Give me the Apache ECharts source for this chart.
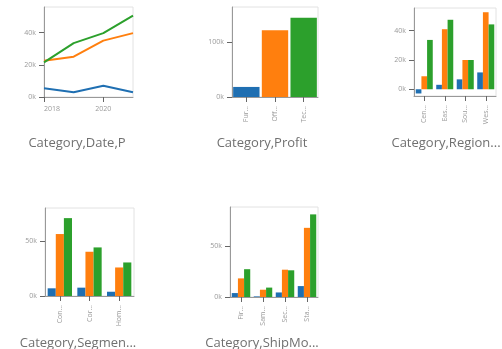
<!DOCTYPE html>
<html>
<head>
<meta charset="utf-8">
<script src="https://cdn.jsdelivr.net/npm/echarts@6/dist/echarts.min.js"></script>
<style>
  html, body { margin: 0; padding: 0; background: #fff; }
  #chart { width: 502px; height: 349px; }
</style>
</head>
<body>
<div id="chart"></div>
<script>
// Superstore profit, split by product category
const categories = ['Furniture', 'Office Supplies', 'Technology'];
const categoryColors = ['#1f6fb2', '#ff7f0e', '#2ca02c'];

// Profit per year
const years = [2018, 2019, 2020, 2021];
const yearTicks = [2018, 2020];
const furnitureByYear = [5458, 3015, 6960, 3019];
const officeByYear = [22593, 25099, 35061, 39736];
const techByYear = [21493, 33503, 39774, 50684];
const yearProfitTicks = [0, 20000, 40000];

// Total profit
const profitByCategory = [18451, 122491, 145455];
const totalProfitTicks = [0, 100000];

// Profit per region
const regions = ['Central', 'East', 'South', 'West'];
const furnitureByRegion = [-2871, 3046, 6771, 11505];
const officeByRegion = [8880, 41015, 19986, 52610];
const techByRegion = [33697, 47462, 19992, 44304];
const regionProfitTicks = [0, 20000, 40000];

// Profit per segment
const segments = ['Consumer', 'Corporate', 'Home Office'];
const furnitureBySegment = [6991, 7585, 3875];
const officeBySegment = [56330, 40227, 25934];
const techBySegment = [70798, 44167, 30490];
const segmentProfitTicks = [0, 50000];

// Profit per ship mode
const shipModes = ['First Class', 'Same Day', 'Second Class', 'Standard Class'];
const furnitureByShipMode = [3900, 600, 4500, 10800];
const officeByShipMode = [18400, 7200, 27000, 68400];
const techByShipMode = [27500, 9300, 26400, 81700];
const shipModeProfitTicks = [0, 50000];

const titles = ['Category,Date,P', 'Category,Profit', 'Category,Region...', 'Category,Segmen...', 'Category,ShipMo...'];

const FONT = 'Open Sans';
const AXIS_LINE = '#999';
const TICK = '#666';
const LABEL = '#999';

const panels = [
  { left: 44, top: 7, width: 89, height: 90, min: 0, max: 56000 },
  { left: 232, top: 7, width: 86, height: 90, min: 0, max: 165000 },
  { left: 414, top: 8, width: 82, height: 88, min: -4600, max: 55500 },
  { left: 45, top: 208, width: 89, height: 88, min: 0, max: 80000 },
  { left: 230, top: 207, width: 88, height: 90, min: 0, max: 89000 }
];

const kFormat = v => Math.round(v / 1000) + 'k';
// Category names are shortened to three letters plus an ellipsis
const shortName = s => s.length > 3 ? s.slice(0, 3) + '\u2026' : s;

const grid = panels.map(p => ({
  left: p.left, top: p.top, width: p.width, height: p.height,
  show: true, borderColor: '#e2e2e2', borderWidth: 1, backgroundColor: '#fff'
}));

function valueAxis(i, ticks) {
  return {
    type: 'value', gridIndex: i, min: panels[i].min, max: panels[i].max,
    splitLine: { show: false },
    axisLine: { show: true, lineStyle: { color: AXIS_LINE, width: 1 } },
    axisTick: { show: true, length: 5, lineStyle: { color: TICK }, customValues: ticks },
    axisLabel: {
      customValues: ticks, formatter: kFormat, fontSize: 7, color: LABEL,
      fontFamily: FONT, margin: 8
    }
  };
}

function categoryAxis(i, names) {
  return {
    type: 'category', gridIndex: i, data: names, boundaryGap: true,
    axisLine: { show: true, onZero: false, lineStyle: { color: AXIS_LINE, width: 1 } },
    axisTick: { show: true, alignWithLabel: true, length: 5, lineStyle: { color: TICK } },
    axisLabel: {
      rotate: 90, fontSize: 7, color: LABEL, fontFamily: FONT, margin: 9,
      interval: 0, formatter: shortName
    }
  };
}

const xAxis = [
  {
    type: 'value', gridIndex: 0, min: years[0], max: years[years.length - 1],
    splitLine: { show: false },
    axisLine: { show: true, lineStyle: { color: AXIS_LINE, width: 1 } },
    axisTick: { show: true, length: 5, lineStyle: { color: TICK }, customValues: yearTicks },
    axisLabel: {
      customValues: yearTicks, formatter: v => String(v), fontSize: 7, color: LABEL,
      fontFamily: FONT, margin: 8, alignMinLabel: 'left'
    }
  },
  categoryAxis(1, categories),
  categoryAxis(2, regions),
  categoryAxis(3, segments),
  categoryAxis(4, shipModes)
];

const yAxis = [
  valueAxis(0, yearProfitTicks),
  valueAxis(1, totalProfitTicks),
  valueAxis(2, regionProfitTicks),
  valueAxis(3, segmentProfitTicks),
  valueAxis(4, shipModeProfitTicks)
];

const series = [];

// Panel 1: yearly profit lines
[furnitureByYear, officeByYear, techByYear].forEach((vals, k) => {
  series.push({
    type: 'line', name: categories[k], xAxisIndex: 0, yAxisIndex: 0,
    data: years.map((y, j) => [y, vals[j]]),
    showSymbol: false, symbol: 'none', lineStyle: { width: 2, color: categoryColors[k] },
    itemStyle: { color: categoryColors[k] }, silent: true
  });
});

// Panel 2: one bar per category
series.push({
  type: 'bar', xAxisIndex: 1, yAxisIndex: 1, barCategoryGap: '8%',
  data: profitByCategory.map((v, k) => ({ value: v, itemStyle: { color: categoryColors[k] } })),
  silent: true
});

// Panels 3-5: grouped bars
const grouped = [
  { axis: 2, sets: [furnitureByRegion, officeByRegion, techByRegion], gap: '17%' },
  { axis: 3, sets: [furnitureBySegment, officeBySegment, techBySegment], gap: '18%' },
  { axis: 4, sets: [furnitureByShipMode, officeByShipMode, techByShipMode], gap: '16%' }
];
grouped.forEach(g => {
  g.sets.forEach((vals, k) => {
    series.push({
      type: 'bar', name: categories[k], xAxisIndex: g.axis, yAxisIndex: g.axis,
      data: vals, barGap: '0%', barCategoryGap: g.gap,
      itemStyle: { color: categoryColors[k] }, silent: true
    });
  });
});

const titleSpots = [[77, 143], [262, 143], [446, 143], [78, 343], [262, 343]];
const graphic = titles.map((t, i) => ({
  type: 'text', x: titleSpots[i][0], y: titleSpots[i][1], silent: true,
  style: {
    text: t, fill: '#707070', font: '13px "' + FONT + '"',
    textAlign: 'center', textVerticalAlign: 'middle'
  }
}));

const chart = echarts.init(document.getElementById('chart'), null, { renderer: 'canvas' });
chart.setOption({
  animation: false,
  backgroundColor: '#fff',
  grid, xAxis, yAxis, series, graphic
});
</script>
</body>
</html>
